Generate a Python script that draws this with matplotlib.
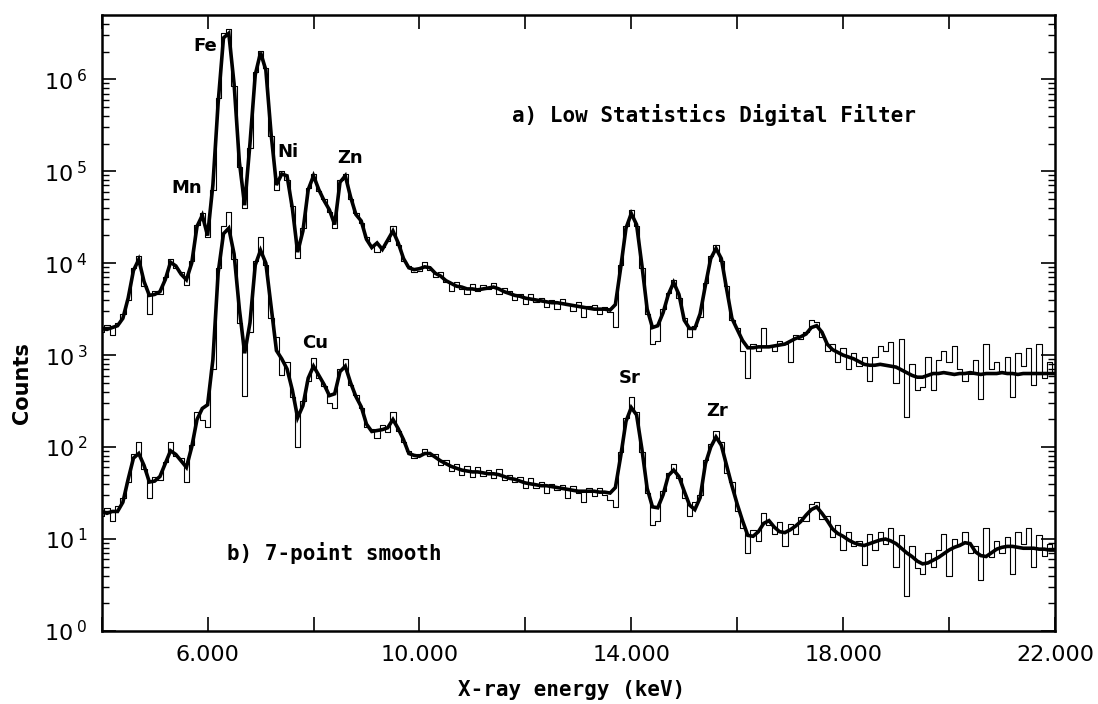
import numpy as np
import matplotlib
matplotlib.use('Agg')
import matplotlib.pyplot as plt
import matplotlib.ticker as mtick

# channel energies (keV): 0.1 keV bins from 4.0 to 22.0
energy = np.linspace(4.0, 22.0, 181)

# log10(counts), one row per keV (x.0 ... x.9)
a_filter_log = [
    3.29, 3.28, 3.30, 3.32, 3.40, 3.62, 3.92, 4.04, 3.80, 3.65,   # 4
    3.66, 3.69, 3.82, 4.01, 3.97, 3.88, 3.82, 4.00, 4.40, 4.52,   # 5
    4.30, 4.85, 5.75, 6.45, 6.50, 5.95, 5.10, 4.63, 5.30, 6.05,   # 6
    6.29, 6.10, 5.40, 4.85, 4.97, 4.95, 4.60, 4.12, 4.35, 4.80,   # 7
    4.95, 4.80, 4.68, 4.58, 4.42, 4.88, 4.95, 4.72, 4.53, 4.46,   # 8
    4.26, 4.17, 4.22, 4.15, 4.25, 4.35, 4.22, 4.05, 3.95, 3.93,   # 9
    3.94, 3.96, 3.95, 3.89, 3.86, 3.81, 3.78, 3.75, 3.74, 3.72,   # 10
    3.72, 3.71, 3.72, 3.73, 3.74, 3.72, 3.69, 3.67, 3.65, 3.64,   # 11
    3.62, 3.61, 3.60, 3.59, 3.58, 3.57, 3.57, 3.56, 3.55, 3.54,   # 12
    3.53, 3.52, 3.51, 3.50, 3.50, 3.50, 3.49, 3.55, 3.95, 4.38,   # 13
    4.54, 4.42, 3.98, 3.50, 3.30, 3.32, 3.46, 3.66, 3.79, 3.66,   # 14
    3.38, 3.29, 3.29, 3.45, 3.76, 4.05, 4.16, 4.05, 3.72, 3.40,   # 15
    3.28, 3.16, 3.08, 3.08, 3.09, 3.09, 3.09, 3.10, 3.11, 3.12,   # 16
    3.15, 3.18, 3.20, 3.23, 3.30, 3.32, 3.25, 3.12, 3.06, 3.03,   # 17
    3.00, 2.98, 2.96, 2.93, 2.90, 2.89, 2.89, 2.90, 2.89, 2.88,   # 18
    2.87, 2.84, 2.81, 2.78, 2.76, 2.76, 2.78, 2.80, 2.80, 2.81,   # 19
    2.80, 2.79, 2.80, 2.80, 2.81, 2.80, 2.79, 2.80, 2.80, 2.80,   # 20
    2.81, 2.80, 2.80, 2.79, 2.80, 2.80, 2.80, 2.80, 2.80, 2.80,   # 21
    2.80,                                                         # 22
]

a_raw_log = [
    3.25, 3.33, 3.22, 3.35, 3.45, 3.60, 3.95, 4.08, 3.75, 3.45,
    3.70, 3.66, 3.85, 4.05, 3.95, 3.90, 3.76, 4.02, 4.42, 4.55,
    4.28, 4.80, 5.80, 6.50, 6.55, 5.93, 5.05, 4.60, 5.25, 6.08,
    6.31, 6.12, 5.38, 4.80, 5.00, 4.90, 4.62, 4.06, 4.38, 4.82,
    4.97, 4.78, 4.70, 4.56, 4.38, 4.90, 4.97, 4.70, 4.55, 4.44,
    4.28, 4.20, 4.12, 4.18, 4.24, 4.40, 4.20, 4.02, 3.97, 3.90,
    3.92, 4.01, 3.93, 3.85, 3.90, 3.80, 3.70, 3.79, 3.72, 3.66,
    3.77, 3.70, 3.76, 3.72, 3.78, 3.66, 3.73, 3.70, 3.60, 3.66,
    3.56, 3.66, 3.58, 3.62, 3.52, 3.60, 3.50, 3.61, 3.55, 3.48,
    3.58, 3.42, 3.53, 3.55, 3.45, 3.52, 3.47, 3.31, 3.98, 4.40,
    4.58, 4.40, 3.95, 3.45, 3.12, 3.15, 3.50, 3.68, 3.82, 3.62,
    3.40, 3.20, 3.32, 3.42, 3.78, 4.08, 4.20, 4.02, 3.75, 3.38,
    3.30, 3.05, 2.75, 3.12, 3.05, 3.30, 3.10, 3.05, 3.15, 3.12,
    2.92, 3.22, 3.18, 3.25, 3.38, 3.36, 3.20, 3.05, 3.12, 2.92,
    3.08, 2.85, 3.02, 2.88, 2.98, 2.72, 2.98, 3.10, 3.04, 3.14,
    2.70, 3.18, 2.33, 2.90, 2.62, 2.65, 2.98, 2.62, 2.95, 3.05,
    2.92, 3.10, 2.85, 2.72, 2.80, 2.95, 2.52, 3.12, 2.85, 2.92,
    2.82, 2.98, 2.55, 3.02, 2.88, 3.08, 2.68, 3.12, 2.75, 2.92,
    2.82,
]

b_smooth_log = [
    1.30, 1.28, 1.30, 1.30, 1.40, 1.65, 1.88, 1.93, 1.80, 1.62,
    1.63, 1.68, 1.82, 1.96, 1.92, 1.85, 1.78, 2.00, 2.30, 2.42,
    2.46, 2.95, 3.90, 4.32, 4.38, 4.10, 3.50, 3.02, 3.35, 3.98,
    4.14, 4.00, 3.52, 3.05, 2.96, 2.85, 2.62, 2.32, 2.45, 2.75,
    2.88, 2.78, 2.68, 2.56, 2.58, 2.82, 2.88, 2.70, 2.55, 2.44,
    2.25, 2.17, 2.18, 2.19, 2.21, 2.30, 2.20, 2.08, 1.93, 1.91,
    1.90, 1.93, 1.93, 1.89, 1.85, 1.82, 1.79, 1.77, 1.75, 1.74,
    1.73, 1.73, 1.72, 1.71, 1.71, 1.70, 1.68, 1.66, 1.65, 1.63,
    1.61, 1.60, 1.59, 1.58, 1.58, 1.57, 1.56, 1.55, 1.54, 1.53,
    1.52, 1.52, 1.52, 1.52, 1.51, 1.51, 1.50, 1.56, 1.90, 2.28,
    2.43, 2.35, 1.98, 1.55, 1.35, 1.34, 1.48, 1.69, 1.75, 1.68,
    1.52, 1.37, 1.32, 1.45, 1.82, 2.00, 2.11, 2.02, 1.80, 1.58,
    1.38, 1.20, 1.04, 1.03, 1.08, 1.17, 1.20, 1.13, 1.08, 1.07,
    1.10, 1.14, 1.19, 1.26, 1.32, 1.35, 1.28, 1.20, 1.11, 1.06,
    1.03, 0.99, 0.96, 0.94, 0.93, 0.95, 0.97, 0.99, 1.00, 0.98,
    0.95, 0.90, 0.85, 0.81, 0.76, 0.73, 0.74, 0.77, 0.80, 0.84,
    0.88, 0.91, 0.93, 0.96, 0.95, 0.86, 0.82, 0.81, 0.85, 0.89,
    0.91, 0.92, 0.92, 0.91, 0.90, 0.90, 0.90, 0.89, 0.89, 0.88,
    0.88,
]

b_raw_log = [
    1.25, 1.34, 1.20, 1.36, 1.45, 1.62, 1.92, 2.05, 1.76, 1.45,
    1.67, 1.64, 1.84, 2.06, 1.90, 1.88, 1.62, 2.02, 2.38, 2.30,
    2.22, 2.85, 3.95, 4.40, 4.56, 4.05, 3.35, 2.56, 3.25, 4.02,
    4.29, 3.98, 3.40, 3.20, 2.78, 2.92, 2.55, 2.00, 2.50, 2.72,
    2.97, 2.75, 2.66, 2.48, 2.42, 2.85, 2.96, 2.68, 2.57, 2.42,
    2.22, 2.20, 2.10, 2.24, 2.16, 2.38, 2.18, 2.05, 1.96, 1.88,
    1.92, 1.98, 1.90, 1.92, 1.80, 1.86, 1.74, 1.82, 1.70, 1.79,
    1.68, 1.78, 1.69, 1.75, 1.66, 1.76, 1.64, 1.70, 1.62, 1.68,
    1.56, 1.66, 1.55, 1.62, 1.50, 1.60, 1.53, 1.59, 1.45, 1.58,
    1.50, 1.40, 1.56, 1.47, 1.55, 1.48, 1.42, 1.35, 1.95, 2.32,
    2.54, 2.38, 1.95, 1.50, 1.15, 1.20, 1.52, 1.72, 1.82, 1.66,
    1.45, 1.25, 1.40, 1.48, 1.86, 2.03, 2.17, 2.05, 1.72, 1.62,
    1.30, 1.12, 0.85, 1.10, 0.98, 1.28, 1.15, 1.06, 1.18, 0.92,
    1.16, 1.05, 1.24, 1.20, 1.38, 1.40, 1.22, 1.25, 1.02, 1.15,
    0.88, 1.08, 0.92, 0.98, 0.72, 1.05, 0.88, 1.08, 0.95, 1.12,
    0.70, 1.04, 0.38, 0.92, 0.68, 0.62, 0.85, 0.70, 0.88, 1.05,
    0.60, 1.00, 0.95, 1.08, 0.85, 0.92, 0.55, 1.12, 0.80, 0.98,
    0.85, 1.02, 0.62, 1.08, 0.95, 1.12, 0.70, 1.04, 0.82, 0.95,
    0.90,
]

a_filter = 10 ** np.array(a_filter_log)
a_raw = 10 ** np.array(a_raw_log)
b_smooth = 10 ** np.array(b_smooth_log)
b_raw = 10 ** np.array(b_raw_log)

labelled_ticks = [6, 10, 14, 18, 22]
labelled_text = ['6.000', '10.000', '14.000', '18.000', '22.000']
plain_ticks = [4, 8, 12, 16, 20]
decades = [0, 1, 2, 3, 4, 5, 6]

fig = plt.figure(figsize=(10.98, 7.04), dpi=100)
ax = fig.add_axes([0.0926, 0.1037, 0.8682, 0.875])

# raw spectra (thin steps) under the processed ones (thick)
ax.step(energy, a_raw, where='mid', color='black', lw=0.8)
ax.plot(energy, a_filter, color='black', lw=2.6, solid_joinstyle='miter')
ax.step(energy, b_raw, where='mid', color='black', lw=0.8)
ax.plot(energy, b_smooth, color='black', lw=2.6, solid_joinstyle='miter')

ax.set_yscale('log')
ax.set_xlim(4, 22)
ax.set_ylim(1, 5e6)

ax.set_xticks(labelled_ticks)
ax.set_xticklabels(labelled_text)
ax.set_xticks(plain_ticks, minor=True)

# only ticks that lie inside the frame
ax.yaxis.set_major_locator(mtick.FixedLocator([10.0 ** d for d in decades]))
minor_y = [m * 10.0 ** d for d in decades for m in range(2, 10) if m * 10.0 ** d < 5e6]
ax.yaxis.set_minor_locator(mtick.FixedLocator(minor_y))
ax.yaxis.set_major_formatter(mtick.FixedFormatter(
    [r'$\mathregular{10^{\;%d}}$' % d for d in decades]))
ax.yaxis.set_minor_formatter(mtick.NullFormatter())

ax.tick_params(which='both', direction='in', top=True, right=True)
ax.tick_params(which='major', length=10, width=1.2, labelsize=16, pad=10)
ax.tick_params(axis='y', which='minor', length=5, width=1)
ax.tick_params(axis='x', which='minor', length=10, width=1.2)
for s in ax.spines.values():
    s.set_linewidth(1.8)

# element labels
peak_text = [('Fe', 5.95, 10 ** 6.36), ('Mn', 5.60, 10 ** 4.82),
             ('Ni', 7.52, 10 ** 5.21), ('Zn', 8.69, 10 ** 5.14),
             ('Cu', 8.03, 10 ** 3.13), ('Sr', 13.97, 10 ** 2.75),
             ('Zr', 15.63, 10 ** 2.39)]
for name, ex, ey in peak_text:
    ax.text(ex, ey, name, ha='center', va='center', fontsize=13, fontweight='semibold')

mono = 'DejaVu Sans Mono'
ax.text(11.74, 10 ** 5.61, 'a) Low Statistics Digital Filter', family=mono,
        fontweight='bold', fontsize=15, va='center')
ax.text(6.37, 10 ** 0.85, 'b) 7-point smooth', family=mono,
        fontweight='bold', fontsize=15, va='center')

fig.text(572 / 1098, 1 - 690 / 704, 'X-ray energy (keV)', family=mono,
         fontweight='bold', fontsize=15, ha='center', va='center')
fig.text(22 / 1098, 1 - 383 / 704, 'Counts', rotation=90, fontweight='bold',
         fontsize=15, ha='center', va='center')

plt.savefig('out.png', dpi=100)
